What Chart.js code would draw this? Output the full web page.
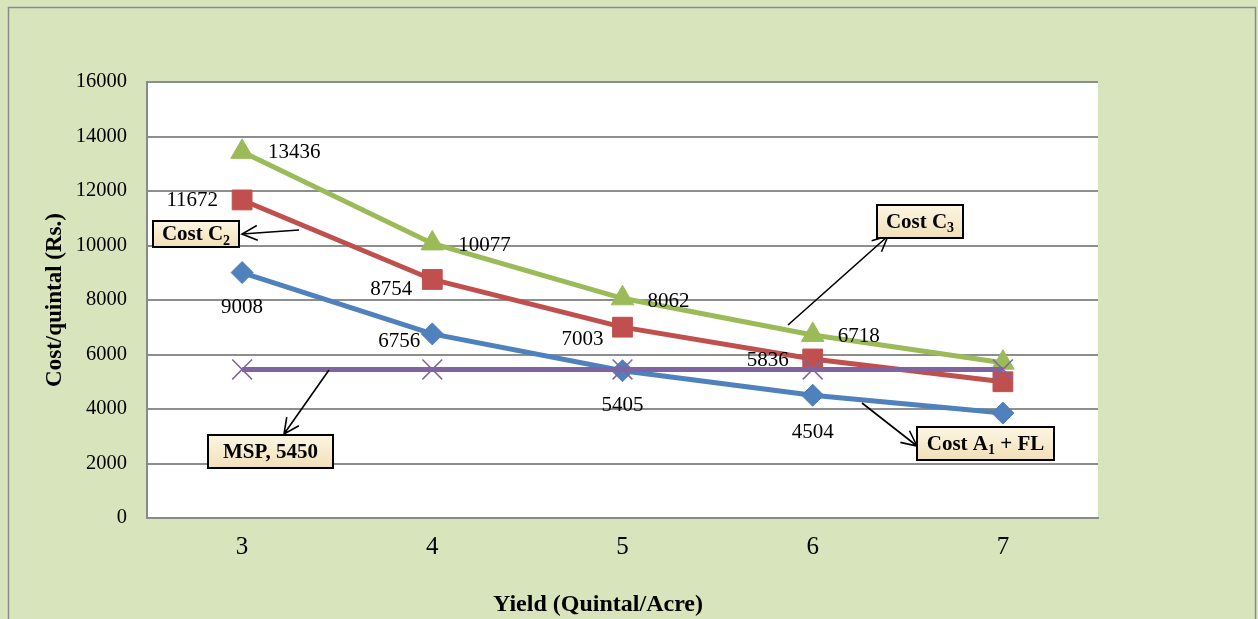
<!DOCTYPE html>
<html>
<head>
<meta charset="utf-8">
<script src="https://cdn.jsdelivr.net/npm/chart.js@4/dist/chart.umd.min.js"></script>
<style>
html,body{margin:0;padding:0;background:#D8E4BC;}
#wrap{width:1258px;height:619px;}
</style>
</head>
<body>
<div id="wrap"><canvas id="c" width="1258" height="619"></canvas></div>
<script>
const yieldCategories = ['3', '4', '5', '6', '7'];
const costA1FL = [9008, 6756, 5405, 4504, 3850];
const costC2 = [11672, 8754, 7003, 5836, 5000];
const costC3 = [13436, 10077, 8062, 6718, 5700];
const msp = [5450, 5450, 5450, 5450, 5450];
const yTicks = [0, 2000, 4000, 6000, 8000, 10000, 12000, 14000, 16000];
const xAxisTitle = 'Yield (Quintal/Acre)';
const yAxisTitle = 'Cost/quintal (Rs.)';
const labelledPoints = [0, 1, 2, 3];

const SERIF = '"Liberation Serif", "Times New Roman", serif';

const bgPlugin = {
  id: 'bg',
  beforeDraw(chart) {
    const ctx = chart.ctx, a = chart.chartArea;
    ctx.save();
    ctx.fillStyle = '#D8E4BC';
    ctx.fillRect(0, 0, chart.width, chart.height);
    ctx.strokeStyle = '#8a8a8a';
    ctx.lineWidth = 1.5;
    ctx.beginPath();
    ctx.moveTo(8.5, chart.height + 5);
    ctx.lineTo(8.5, 7.5);
    ctx.lineTo(1255.5, 7.5);
    ctx.lineTo(1255.5, chart.height + 5);
    ctx.stroke();
    ctx.fillStyle = '#ffffff';
    ctx.fillRect(a.left, a.top, a.right - a.left, a.bottom - a.top);
    ctx.restore();
  }
};

// per-series label placement (offsets from the point, in px)
const labelPlacement = {
  'Cost C3': {align: 'left', offs: [[26, 1], [26, 2], [25, 3], [25, 2]]},
  'Cost C2': {align: 'right', offs: [[-24, 1], [-20, 10], [-19, 12], [-24, 2]]},
  'Cost A1 + FL': {align: 'center', offs: [[0, 35], [-33, 8], [0, 35], [0, 37]]}
};

function drawArrow(ctx, x1, y1, x2, y2) {
  ctx.save();
  ctx.strokeStyle = '#000';
  ctx.lineWidth = 1.6;
  ctx.beginPath();
  ctx.moveTo(x1, y1);
  ctx.lineTo(x2, y2);
  const ang = Math.atan2(y2 - y1, x2 - x1);
  const L = 17, spread = 0.45;
  ctx.moveTo(x2 - L * Math.cos(ang - spread), y2 - L * Math.sin(ang - spread));
  ctx.lineTo(x2, y2);
  ctx.lineTo(x2 - L * Math.cos(ang + spread), y2 - L * Math.sin(ang + spread));
  ctx.stroke();
  ctx.restore();
}

// parts: array of [text, isSub]
function drawBox(ctx, x, y, w, h, parts) {
  ctx.save();
  const g = ctx.createLinearGradient(0, y, 0, y + h);
  g.addColorStop(0, '#FDF6E4');
  g.addColorStop(1, '#F1E0B8');
  ctx.fillStyle = g;
  ctx.fillRect(x, y, w, h);
  ctx.strokeStyle = '#000';
  ctx.lineWidth = 2;
  ctx.strokeRect(x, y, w, h);
  const mainFont = 'bold 21px ' + SERIF;
  const subFont = 'bold 14px ' + SERIF;
  let total = 0;
  parts.forEach(p => { ctx.font = p[1] ? subFont : mainFont; total += ctx.measureText(p[0]).width; });
  let cx = x + (w - total) / 2;
  const cy = y + h / 2 + 1;
  ctx.fillStyle = '#000';
  ctx.textBaseline = 'middle';
  ctx.textAlign = 'left';
  parts.forEach(p => {
    ctx.font = p[1] ? subFont : mainFont;
    ctx.fillText(p[0], cx, p[1] ? cy + 6 : cy);
    cx += ctx.measureText(p[0]).width;
  });
  ctx.restore();
}

const overlayPlugin = {
  id: 'overlay',
  afterDatasetsDraw(chart) {
    const ctx = chart.ctx;
    ctx.save();
    ctx.font = '21px ' + SERIF;
    ctx.fillStyle = '#000';
    ctx.textBaseline = 'middle';
    chart.data.datasets.forEach((ds, di) => {
      const pl = labelPlacement[ds.label];
      if (!pl) return;
      const meta = chart.getDatasetMeta(di);
      ctx.textAlign = pl.align;
      labelledPoints.forEach((i, k) => {
        const pt = meta.data[i];
        const o = pl.offs[k];
        ctx.fillText(String(ds.data[i]), pt.x + o[0], pt.y + o[1]);
      });
    });
    ctx.restore();

    // callouts
    drawArrow(ctx, 299, 230, 242, 234);
    drawBox(ctx, 153, 221, 86, 26, [['Cost C', false], ['2', true]]);
    drawArrow(ctx, 788, 325, 888, 236);
    drawBox(ctx, 877, 205, 86, 33, [['Cost C', false], ['3', true]]);
    drawArrow(ctx, 862, 403, 917, 446);
    drawBox(ctx, 917, 427, 137, 33, [['Cost A', false], ['1', true], [' + FL', false]]);
    drawArrow(ctx, 329, 370, 284, 434);
    drawBox(ctx, 208, 435, 125, 33, [['MSP, 5450', false]]);

    // x axis title
    ctx.save();
    ctx.font = 'bold 24px ' + SERIF;
    ctx.fillStyle = '#000';
    ctx.textAlign = 'center';
    ctx.textBaseline = 'middle';
    ctx.fillText(xAxisTitle, 598, 605);
    ctx.restore();
  }
};

new Chart(document.getElementById('c'), {
  type: 'line',
  data: {
    labels: yieldCategories,
    datasets: [
      {label: 'MSP', data: msp, borderColor: '#8064A2', backgroundColor: '#8064A2', borderWidth: 5,
       pointStyle: 'crossRot', pointRadius: 14, pointBorderWidth: 1.5, pointBorderColor: '#8064A2', pointBackgroundColor: '#8064A2'},
      {label: 'Cost A1 + FL', data: costA1FL, borderColor: '#4F81BD', backgroundColor: '#4F81BD', borderWidth: 5,
       pointStyle: 'rectRot', pointRadius: 11, pointBorderWidth: 1, pointBorderColor: '#4F81BD', pointBackgroundColor: '#4F81BD'},
      {label: 'Cost C2', data: costC2, borderColor: '#C0504D', backgroundColor: '#C0504D', borderWidth: 5,
       pointStyle: 'rect', pointRadius: 14, pointBorderWidth: 1, pointBorderColor: '#C0504D', pointBackgroundColor: '#C0504D'},
      {label: 'Cost C3', data: costC3, borderColor: '#9BBB59', backgroundColor: '#9BBB59', borderWidth: 5,
       pointStyle: 'triangle', pointRadius: 13, pointBorderWidth: 1, pointBorderColor: '#9BBB59', pointBackgroundColor: '#9BBB59'}
    ]
  },
  options: {
    responsive: false,
    animation: false,
    layout: {padding: {top: 82, right: 160, left: 0, bottom: 0}},
    plugins: {legend: {display: false}, tooltip: {enabled: false}},
    elements: {line: {tension: 0}},
    scales: {
      x: {
        type: 'category',
        offset: true,
        afterFit(s) { s.height = 101; },
        grid: {display: false, drawTicks: false},
        border: {display: true, color: '#8a8a8a', width: 2},
        ticks: {color: '#000', font: {family: SERIF, size: 25}, padding: 14}
      },
      y: {
        min: 0, max: 16000,
        afterFit(s) { s.width = 147; },
        afterBuildTicks(s) { s.ticks = yTicks.map(v => ({value: v})); },
        grid: {color: '#8e8e8e', lineWidth: 2, drawTicks: false},
        border: {display: true, color: '#8a8a8a', width: 2},
        ticks: {color: '#000', font: {family: SERIF, size: 20.5}, padding: 20, callback: v => String(v)},
        title: {display: true, text: yAxisTitle, color: '#000', font: {family: SERIF, size: 23, weight: 'bold'}, padding: {top: 41, bottom: 0}}
      }
    }
  },
  plugins: [bgPlugin, overlayPlugin]
});
</script>
</body>
</html>
